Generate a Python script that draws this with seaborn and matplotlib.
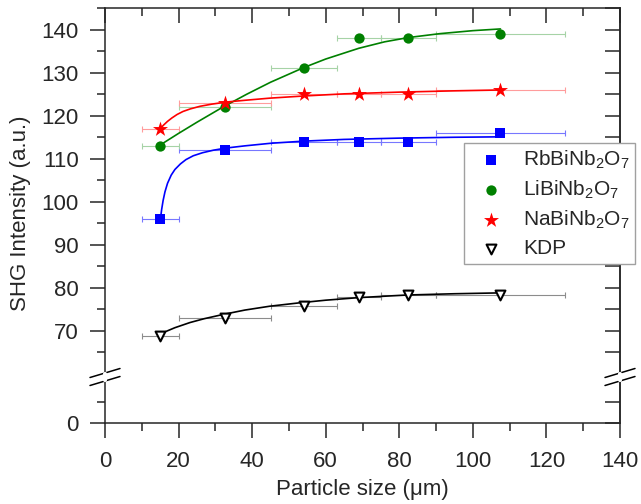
import matplotlib
matplotlib.use("Agg")
import matplotlib.pyplot as plt
from matplotlib.lines import Line2D
from matplotlib.ticker import MultipleLocator, FixedLocator
import seaborn as sns

# particle size bins (centre and half width)
sizes = [15, 32.5, 54, 69, 82.5, 107.5]
size_err = [5, 12.5, 9, 6, 7.5, 17.5]

rb = [96, 112, 114, 114, 114, 116]
li = [113, 122, 131, 138, 138, 139]
na = [117, 123, 125, 125, 125, 126]
kdp = [68.8, 72.9, 75.8, 77.9, 78.2, 78.3]

# fitted curves
rb_fit_x = [15.1, 15.4, 15.8, 16.3, 17, 18, 19, 20.5, 22, 24, 26.5, 29.5, 33, 38, 45, 54, 65, 80, 95, 107.5]
rb_fit_y = [96.2, 98.2, 100.3, 102.3, 104.3, 106.2, 107.5, 108.8, 109.8, 110.7, 111.4, 112.0, 112.5, 113.0,
            113.6, 114.1, 114.5, 114.8, 115.0, 115.1]
li_fit_x = [15, 20, 25, 32.2, 38.5, 45, 54, 60, 69, 76, 82.5, 91, 100, 107.5]
li_fit_y = [113.2, 115.9, 118.5, 122.1, 125.0, 127.8, 131.2, 133.2, 135.7, 137.2, 138.2, 139.1, 139.8, 140.2]
na_fit_x = [15.1, 16, 17, 18.2, 19.6, 21.2, 23.2, 25.8, 29, 33, 38, 44.8, 54, 65, 80, 95, 107.5]
na_fit_y = [117.1, 117.9, 118.7, 119.5, 120.3, 121.0, 121.6, 122.2, 122.7, 123.2, 123.6, 124.1, 124.6,
            125.1, 125.5, 125.8, 126]
kdp_fit_x = [15.1, 19, 23.1, 27, 32.2, 38, 44.8, 53, 60, 69, 82, 95, 107.5]
kdp_fit_y = [69.3, 70.7, 71.9, 72.8, 73.8, 74.8, 75.7, 76.5, 77.1, 77.7, 78.3, 78.6, 78.8]

labels = ["RbBiNb$_2$O$_7$", "LiBiNb$_2$O$_7$", "NaBiNb$_2$O$_7$", "KDP"]

sns.set_style("white")
plt.rcParams["font.family"] = ["Liberation Sans", "DejaVu Sans"]
plt.rcParams["mathtext.fontset"] = "custom"
plt.rcParams["mathtext.rm"] = "Liberation Sans"
plt.rcParams["mathtext.default"] = "regular"
plt.rcParams["axes.linewidth"] = 1.1

fig = plt.figure(figsize=(6.41, 5.04), dpi=100)
W, H = 641, 504
ax = fig.add_axes([105 / W, 1 - 373.7 / H, 515 / W, 365.4 / H])
ax_lo = fig.add_axes([105 / W, 1 - 423 / H, 515 / W, 43 / H])

# (values, fit x, fit y, colour, errbar colour, marker, size, face, edge, edge width)
series = [
    (rb, rb_fit_x, rb_fit_y, "#0000ff", "#7777ff", "s", 45, "#0000ff", "#0000ff", 0),
    (li, li_fit_x, li_fit_y, "#008000", "#a6d3a6", "o", 55, "#008000", "#008000", 0),
    (na, na_fit_x, na_fit_y, "#ff0000", "#ff9c9c", "*", 130, "#ff0000", "#ff0000", 0),
    (kdp, kdp_fit_x, kdp_fit_y, "black", "#8c8c8c", "v", 50, "white", "black", 1.5),
]

handles = []
for (vals, fx, fy, c, ec, m, s, face, edge, elw), lab in zip(series, labels):
    ax.errorbar(sizes, vals, xerr=size_err, fmt="none", ecolor=ec,
                elinewidth=0.8, capsize=2.2, capthick=0.8, zorder=1)
    sns.lineplot(x=fx, y=fy, ax=ax, color=c, lw=1.2, zorder=2, legend=False)
    sns.scatterplot(x=sizes, y=vals, ax=ax, marker=m, s=s, color=face,
                    edgecolor=edge, linewidth=elw, zorder=3)
    handles.append(ax.collections[-1])

for a in (ax, ax_lo):
    a.set_xlim(0, 140)
    a.xaxis.set_major_locator(MultipleLocator(20))
    a.xaxis.set_minor_locator(MultipleLocator(10))
    a.tick_params(axis="y", which="both", direction="out", left=True, right=False,
                  labelsize=16, pad=8, width=1.1)
    a.tick_params(axis="y", which="major", length=11)
    a.tick_params(axis="y", which="minor", length=5.5)
    a.set_xlabel("")
    a.set_ylabel("")

ax.set_ylim(60, 145)
ax.yaxis.set_major_locator(FixedLocator(list(range(70, 150, 10))))
ax.yaxis.set_minor_locator(FixedLocator(list(range(65, 146, 10))))
ax.tick_params(axis="x", which="both", bottom=False, top=True, direction="in",
               labelbottom=False, width=1.1)
ax.tick_params(axis="x", which="major", length=11)
ax.tick_params(axis="x", which="minor", length=5.5)
ax.spines["bottom"].set_visible(False)

ax_lo.set_ylim(0, 10)
ax_lo.yaxis.set_major_locator(FixedLocator([0]))
ax_lo.yaxis.set_minor_locator(FixedLocator([5]))
ax_lo.tick_params(axis="x", which="both", bottom=True, top=False, direction="out",
                  labelsize=16, pad=9, width=1.1)
ax_lo.tick_params(axis="x", which="major", length=11)
ax_lo.tick_params(axis="x", which="minor", length=5.5)
ax_lo.spines["top"].set_visible(False)
ax_lo.patch.set_alpha(0)
ax_lo.set_xlabel("Particle size (\u03bcm)", fontsize=16, labelpad=5)

# right spine ticks point inwards
for a, major, minor in ((ax, list(range(70, 150, 10)), list(range(65, 146, 10))),
                        (ax_lo, [0], [5])):
    sec = a.secondary_yaxis("right")
    sec.yaxis.set_major_locator(FixedLocator(major))
    sec.yaxis.set_minor_locator(FixedLocator(minor))
    sec.tick_params(which="both", direction="in", length=11, width=1.1, labelright=False)
    sec.spines["right"].set_linewidth(1.1)

fig.text(21 / W, 1 - 213 / H, "SHG Intensity (a.u.)", rotation=90,
         ha="center", va="center", fontsize=16)

# axis break marks
for xs in (105, 620):
    for yc in (373, 381):
        fig.add_artist(Line2D([(xs - 15) / W, (xs + 15) / W],
                              [1 - (yc + 4.5) / H, 1 - (yc - 4.5) / H],
                              transform=fig.transFigure, color="black", lw=1.1))
    fig.add_artist(Line2D([xs / W, xs / W], [1 - 380 / H, 1 - 374 / H],
                          transform=fig.transFigure, color="white", lw=3))

fig.legend(handles, labels, loc="upper left", bbox_to_anchor=(464 / W, 1 - 142.7 / H),
           bbox_transform=fig.transFigure, frameon=True, fancybox=False,
           edgecolor="#a0a0a0", framealpha=1, fontsize=15, borderpad=0.28,
           handlelength=2.0, handletextpad=0.55, labelspacing=0.38,
           borderaxespad=0)

fig.savefig("out.png", dpi=100)
